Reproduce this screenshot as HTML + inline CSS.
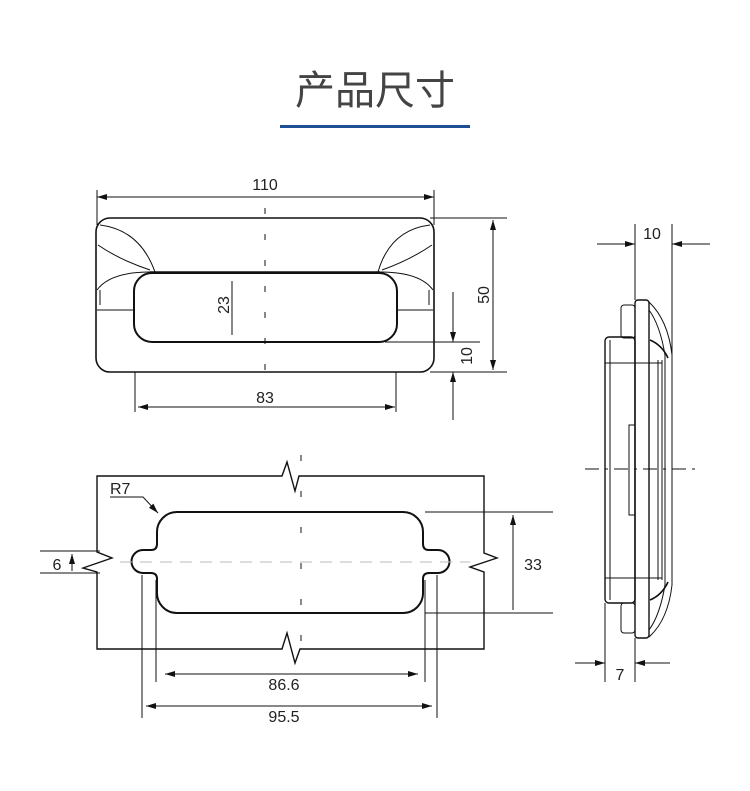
<!DOCTYPE html>
<html><head><meta charset="utf-8"><style>
body{margin:0;background:#fff;width:750px;height:791px;overflow:hidden}
svg{display:block}
text{font-family:"Liberation Sans","Noto Sans CJK SC",sans-serif;fill:#222}
</style></head><body>
<svg width="750" height="791" viewBox="0 0 750 791">
<defs>
<marker id="a" viewBox="0 0 10 6" refX="10" refY="3" markerWidth="10" markerHeight="6" orient="auto-start-reverse" markerUnits="userSpaceOnUse"><path d="M0,0L10,3L0,6z" fill="#111"/></marker>
</defs>
<text x="375" y="104" font-size="40" text-anchor="middle" style="fill:#444">产品尺寸</text>
<rect x="280" y="125" width="190" height="3" fill="#1e4f94"/>
<g stroke="#111" fill="none" stroke-width="1">
<rect x="96" y="218" width="338" height="154" rx="14" stroke-width="1.6"/>
<rect x="134" y="273" width="263" height="69" rx="18" stroke-width="2"/>
<line x1="150" y1="272" x2="380" y2="272" stroke-width="1.6"/>
<path d="M100,225 Q140,230 155,272 M98,245 Q120,260 150,270 M430,225 Q390,230 378,272 M432,245 Q410,260 382,270"/>
<path d="M97,290 Q110,272 150,272 M97,310 L134,310 M433,290 Q420,272 380,272 M433,310 L397,310 M100,290 L100,305 M429,290 L429,305"/>
<line x1="265" y1="208" x2="265" y2="380" stroke-dasharray="6,20" />
<line x1="97" y1="190" x2="97" y2="225"/><line x1="434" y1="190" x2="434" y2="225"/>
<line x1="97" y1="197" x2="434" y2="197" marker-start="url(#a)" marker-end="url(#a)"/>
<line x1="430" y1="218" x2="507" y2="218"/><line x1="430" y1="372" x2="507" y2="372"/>
<line x1="493" y1="220" x2="493" y2="370" marker-start="url(#a)" marker-end="url(#a)"/>
<line x1="385" y1="342" x2="480" y2="342"/>
<line x1="453" y1="292" x2="453" y2="342" marker-end="url(#a)"/>
<line x1="453" y1="420" x2="453" y2="372" marker-end="url(#a)"/>
<line x1="135" y1="372" x2="135" y2="412"/><line x1="396" y1="372" x2="396" y2="412"/>
<line x1="138" y1="407" x2="395" y2="407" marker-start="url(#a)" marker-end="url(#a)"/>
<line x1="232" y1="281" x2="232" y2="335"/>
<path d="M97,476 L282,476 L287,462 L295,491 L299,476 L484,476 L484,553 L497,558 L470,567 L484,572 L484,649 L300,649 L295,663 L287,633 L282,649 L97,649 L97,572 L83,568 L112,558 L97,552 Z" stroke-width="1.4"/>
<path d="M177,512 L403,512 A20,20 0 0 1 423,532 L423,544 Q423,550 429,550 L438,550 A11.5,11.5 0 0 1 438,573 L429,573 Q423,573 423,579 L423,592 A20,20 0 0 1 403,613 L177,613 A20,20 0 0 1 157,592 L157,579 Q157,573 151,573 L143,573 A11.5,11.5 0 0 1 143,550 L151,550 Q157,550 157,544 L157,532 A20,20 0 0 1 177,512 Z" stroke-width="2"/>
<line x1="301" y1="455" x2="301" y2="670" stroke-dasharray="6,30" stroke-width="1"/>
<line x1="120" y1="562" x2="470" y2="562" stroke="#bbb" stroke-dasharray="12,8"/>
<line x1="425" y1="512" x2="553" y2="512"/><line x1="425" y1="613" x2="553" y2="613"/>
<line x1="513" y1="610" x2="513" y2="515" marker-end="url(#a)"/>
<line x1="40" y1="551" x2="100" y2="551"/><line x1="40" y1="573" x2="100" y2="573"/>
<line x1="72" y1="571" x2="72" y2="554" marker-end="url(#a)"/>
<path d="M110,497 L143,497 L158,513" marker-end="url(#a)"/>
<line x1="156" y1="580" x2="156" y2="682"/><line x1="425" y1="580" x2="425" y2="682"/>
<line x1="165" y1="674" x2="418" y2="674" marker-start="url(#a)" marker-end="url(#a)"/>
<line x1="142" y1="575" x2="142" y2="718"/><line x1="437" y1="575" x2="437" y2="718"/>
<line x1="146" y1="706" x2="432" y2="706" marker-start="url(#a)" marker-end="url(#a)"/>
<rect x="635" y="300" width="14" height="338" rx="3" stroke-width="1.4"/>
<rect x="605" y="337" width="30" height="266" rx="4" stroke-width="1.4"/>
<line x1="610" y1="340" x2="610" y2="600"/>
<rect x="621" y="305" width="14" height="33" rx="3"/>
<rect x="621" y="603" width="14" height="30" rx="3"/>
<rect x="629" y="425" width="6" height="90"/>
<line x1="605" y1="363" x2="662" y2="363"/><line x1="605" y1="578" x2="662" y2="578"/>
<path d="M649,302 Q668,320 672,355 L672,585 Q668,620 649,637"/>
<path d="M649,310 Q660,325 665,355 L665,585 Q660,615 649,630"/>
<path d="M658,360 L658,580 M662,360 L662,580"/>
<path d="M650,340 Q662,345 668,358 M650,600 Q662,595 668,582" stroke-width="1.6"/>
<line x1="635" y1="224" x2="635" y2="300"/><line x1="672" y1="224" x2="672" y2="355"/>
<line x1="597" y1="244" x2="635" y2="244" marker-end="url(#a)"/>
<line x1="710" y1="244" x2="672" y2="244" marker-end="url(#a)"/>
<line x1="585" y1="469" x2="700" y2="469" stroke-dasharray="14,6,3,6"/>
<line x1="605" y1="603" x2="605" y2="682"/><line x1="635" y1="638" x2="635" y2="682"/>
<line x1="575" y1="663" x2="605" y2="663" marker-end="url(#a)"/>
<line x1="670" y1="663" x2="635" y2="663" marker-end="url(#a)"/>
</g>
<g font-size="16">
<text x="265" y="190" text-anchor="middle">110</text>
<text x="265" y="403" text-anchor="middle">83</text>
<text transform="translate(489,295) rotate(-90)" text-anchor="middle">50</text>
<text transform="translate(472,356) rotate(-90)" text-anchor="middle">10</text>
<text transform="translate(229,305) rotate(-90)" text-anchor="middle">23</text>
<text x="110" y="494">R7</text>
<text x="57" y="570" text-anchor="middle">6</text>
<text x="533" y="570" text-anchor="middle">33</text>
<text x="284" y="690" text-anchor="middle">86.6</text>
<text x="284" y="722" text-anchor="middle">95.5</text>
<text x="652" y="239" text-anchor="middle">10</text>
<text x="620" y="680" text-anchor="middle">7</text>
</g>
</svg>
</body></html>
